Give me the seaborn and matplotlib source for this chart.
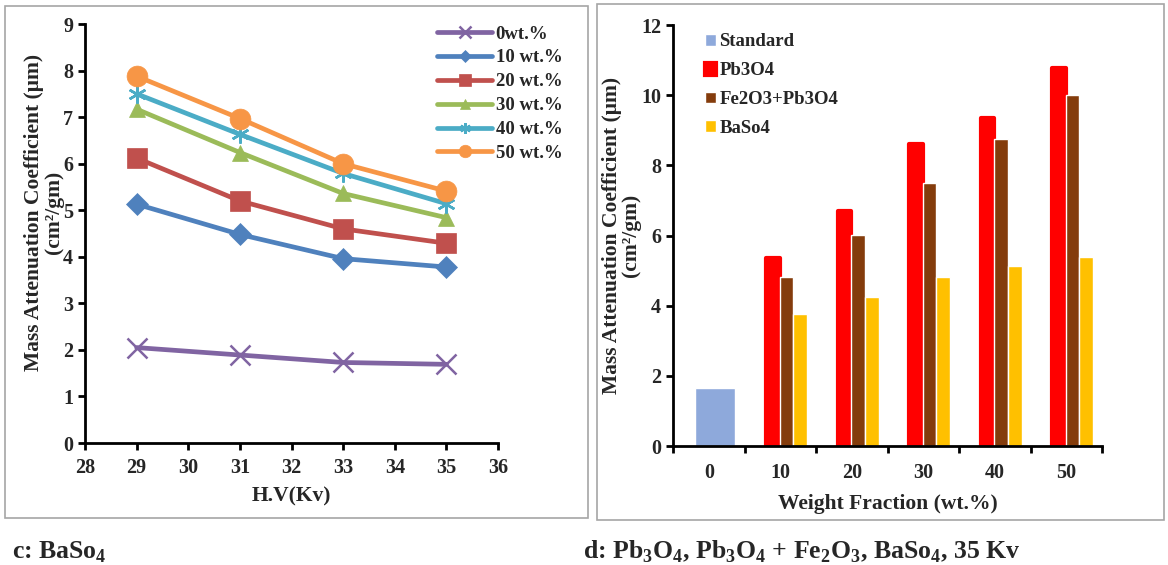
import numpy as np
import pandas as pd
import seaborn as sns
from matplotlib import pyplot as plt
from matplotlib.patches import Patch, Rectangle

sns.set_style('white')
plt.rcParams['font.family'] = ['Liberation Serif', 'DejaVu Serif']
plt.rcParams['font.weight'] = 'bold'
plt.rcParams['mathtext.fontset'] = 'custom'
plt.rcParams['mathtext.rm'] = 'Liberation Serif:bold'
plt.rcParams['mathtext.bf'] = 'Liberation Serif:bold'

#%% data - panel c (BaSo4, line chart)
hv = [29, 31, 33, 35]
wt0 = [2.05, 1.89, 1.73, 1.69]
wt10 = [5.13, 4.48, 3.96, 3.78]
wt20 = [6.12, 5.20, 4.60, 4.29]
wt30 = [7.17, 6.24, 5.36, 4.84]
wt40 = [7.50, 6.63, 5.79, 5.14]
wt50 = [7.88, 6.97, 6.00, 5.41]
line_names = ['0wt.%', '10 wt.%', '20 wt.%', '30 wt.%', '40 wt.%', '50 wt.%']

#%% data - panel d (35 Kv, bar chart)
fractions = ['0', '10', '20', '30', '40', '50']
standard = [1.64]
pb3o4 = [5.37, 6.70, 8.61, 9.34, 10.78]
fe2o3_pb3o4 = [4.82, 6.02, 7.51, 8.76, 10.02]
baso4 = [3.75, 4.26, 4.83, 5.14, 5.40]
bar_names = ['Standard', 'Pb3O4', 'Fe2O3+Pb3O4', 'BaSo4']

line_colors = ['#8064A2', '#4F81BD', '#C0504D', '#9BBB59', '#4BACC6', '#F79646']
line_markers = ['x', 'D', 's', '^', (6, 2, 0), 'o']
line_msize = [14, 11, 14, 12, 13, 15]
bar_colors = ['#8EA9DB', '#FF0000', '#843C0C', '#FFC000']

TICK = 14.5
LAB = 15.5
YLAB = 'Mass Attenuation Coefficient (μm)\n(cm²/gm)'

fig = plt.figure(figsize=(11.68, 5.65), dpi=100)

# panel frames
fig.patches.append(Rectangle((5 / 1168, 1 - 518 / 565), 583 / 1168, 512 / 565,
                             transform=fig.transFigure, fill=False, edgecolor='#A6A6A6', lw=1.2))
fig.patches.append(Rectangle((597 / 1168, 1 - 520 / 565), 567 / 1168, 516 / 565,
                             transform=fig.transFigure, fill=False, edgecolor='#A6A6A6', lw=1.2))

#%% left panel
ax1 = fig.add_axes([0.0728, 0.2159, 0.3536, 0.7416])
series = [wt0, wt10, wt20, wt30, wt40, wt50]
for vals, name, c, m, ms in zip(series, line_names, line_colors, line_markers, line_msize):
    sns.lineplot(x=hv, y=vals, ax=ax1, color=c, marker=m, markersize=ms, linewidth=3.4,
                 markeredgecolor=c, markeredgewidth=1.8 if m in ('x', (6, 2, 0)) else 0.5,
                 label=name)
ax1.set_xlim(28, 36)
ax1.set_ylim(0, 9)
ax1.set_xticks(range(28, 37))
ax1.set_yticks(range(0, 10))
ax1.set_xlabel('H.V(Kv)', fontsize=LAB, fontweight='bold', labelpad=6)
ax1.set_ylabel(YLAB, fontsize=LAB, fontweight='bold', linespacing=0.95)
ax1.yaxis.set_label_coords(-0.052, 0.55)
ax1.legend(loc='upper left', bbox_to_anchor=(430 / 1168, 1 - 18 / 565),
           bbox_transform=fig.transFigure, frameon=False,
           handlelength=2.9, markerscale=0.6, labelspacing=0.36, handletextpad=0.2,
           borderaxespad=0, prop={'weight': 'bold', 'size': 13.5})

#%% right panel
ax2 = fig.add_axes([0.5762, 0.2106, 0.3673, 0.7450])
bars = pd.DataFrame({
    'Fraction': fractions[1:] * 3,
    'Value': pb3o4 + fe2o3_pb3o4 + baso4,
    'Series': [bar_names[1]] * 5 + [bar_names[2]] * 5 + [bar_names[3]] * 5,
})
sns.barplot(data=bars, x='Fraction', y='Value', hue='Series', order=fractions,
            hue_order=bar_names[1:], palette=bar_colors[1:], width=0.57,
            saturation=1, errorbar=None, legend=False, ax=ax2)
sns.barplot(x=fractions[:1], y=standard, order=fractions, color=bar_colors[0],
            width=0.555, saturation=1, errorbar=None, ax=ax2)
for p in ax2.patches:
    p.set_x(p.get_x() + 0.09)
for p in ax2.containers[0]:
    p.set_edgecolor(bar_colors[1])
    p.set_linewidth(3)
    p.set_joinstyle('round')

ax2.set_xlim(-0.5, 5.5)
ax2.set_ylim(0, 12)
ax2.set_yticks(range(0, 13, 2))
ax2.set_xticks(np.arange(-0.5, 6, 1))
ax2.set_xticklabels([])
ax2.set_xticks(range(6), minor=True)
ax2.set_xticklabels(fractions, minor=True)
ax2.tick_params(axis='x', which='minor', length=0, pad=12)
ax2.set_xlabel('Weight Fraction (wt.%)', fontsize=LAB, fontweight='bold', labelpad=8)
ax2.set_ylabel(YLAB, fontsize=LAB, fontweight='bold', linespacing=0.95)
ax2.yaxis.set_label_coords(-0.074, 0.5)
handles = [Patch(facecolor=bar_colors[0]),
           Patch(facecolor=bar_colors[1], edgecolor=bar_colors[1], linewidth=3, joinstyle='round'),
           Patch(facecolor=bar_colors[2]),
           Patch(facecolor=bar_colors[3])]
ax2.legend(handles, bar_names, loc='upper left', bbox_to_anchor=(697 / 1168, 1 - 26 / 565),
           bbox_transform=fig.transFigure, frameon=False, handlelength=0.6, handleheight=0.6,
           handletextpad=0.2, labelspacing=0.63, borderaxespad=0,
           prop={'weight': 'bold', 'size': 13.5})

for ax in (ax1, ax2):
    for s in ('top', 'right'):
        ax.spines[s].set_visible(False)
    for s in ('left', 'bottom'):
        ax.spines[s].set_color('black')
        ax.spines[s].set_linewidth(2)
    ax.tick_params(axis='both', which='major', direction='out', length=5, width=2,
                   color='black', labelsize=TICK, bottom=True, left=True)
    ax.tick_params(axis='x', which='minor', labelsize=TICK)
    for t in ax.get_xticklabels(which='both') + ax.get_yticklabels():
        t.set_fontweight('bold')
    ax.set_facecolor('white')
    ax.grid(False)
ax1.tick_params(axis='x', pad=6)

#%% captions
fig.text(12 / 1168, 1 - 552 / 565, r'c: BaSo$_4$', fontsize=18.5, fontweight='bold', va='center')
fig.text(583 / 1168, 1 - 552 / 565, r'd: Pb$_3$O$_4$, Pb$_3$O$_4$ + Fe$_2$O$_3$, BaSo$_4$, 35 Kv',
         fontsize=18.5, fontweight='bold', va='center')

fig.savefig('out.png', dpi=100, facecolor='white')
